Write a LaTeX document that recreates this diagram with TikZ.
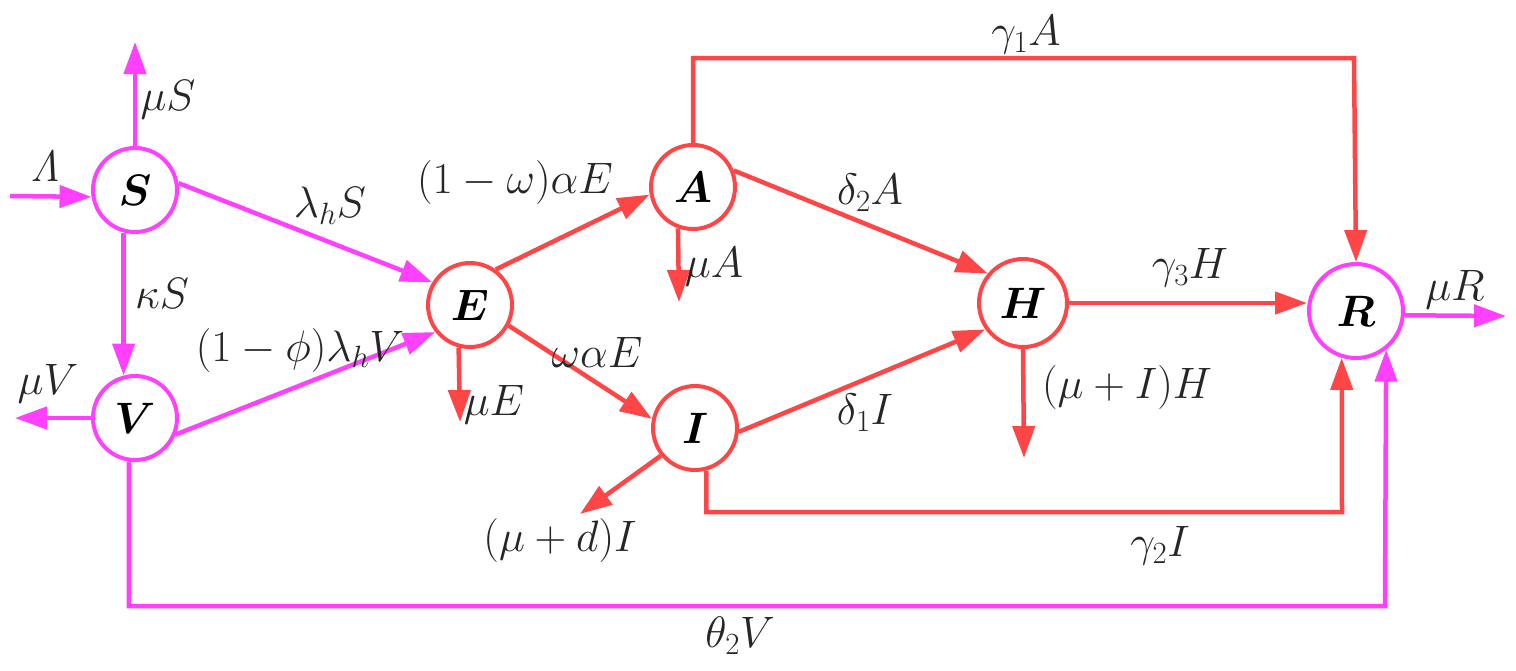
\RequirePackage{fix-cm}
\documentclass[tikz,border=0pt]{standalone}
\usepackage{amsmath,bm}
\usetikzlibrary{arrows.meta}
\definecolor{mag}{RGB}{255,64,255}
\definecolor{rd}{RGB}{255,70,70}
\tikzset{
  every node/.style={font=\fontsize{44}{52}\selectfont},
  comp/.style={circle,draw,line width=4pt,minimum size=84pt,inner sep=0pt,fill=white},
  mcomp/.style={comp,draw=mag},
  rcomp/.style={comp,draw=rd},
  flow/.style={line width=4.5pt,-{Triangle[length=32pt,width=22pt]}},
  mflow/.style={flow,draw=mag},
  rflow/.style={flow,draw=rd},
  lbl/.style={inner sep=0pt,text=black!85}
}
\begin{document}
\begin{tikzpicture}[x=1pt,y=-1pt]
\useasboundingbox (0,0) rectangle (1516,670);
% compartments
\node[mcomp] (S) at (135,190) {$\bm{S}$};
\node[mcomp] (V) at (135,418) {$\bm{V}$};
\node[rcomp] (E) at (470,305) {$\bm{E}$};
\node[rcomp] (A) at (693,187) {$\bm{A}$};
\node[rcomp] (I) at (695,428) {$\bm{I}$};
\node[rcomp,minimum size=88pt] (H) at (1023,303) {$\bm{H}$};
\node[mcomp,minimum size=94pt] (R) at (1356,311) {$\bm{R}$};
% free ends
\coordinate (lam) at (10,196);
\coordinate (muS) at (135,42);
\coordinate (muV) at (15,418);
\coordinate (muE) at (460,422);
\coordinate (muA) at (679,302);
\coordinate (muH) at (1024,458);
\coordinate (muI) at (580,514);
\coordinate (muR) at (1506,316);
\coordinate (tr) at (1354,58);
\coordinate (br) at (1342,512);
\coordinate (bb) at (1385,606);
% magenta flows
\draw[mflow] (lam) -- (S.189);
\draw[mflow] (S.north) -- (muS);
\draw[mflow] (S.255) -- (V.105);
\draw[mflow] (V.west) -- (muV);
\draw[mflow] (S.9) -- (E.149);
\draw[mflow] (V.-22) -- (E.218);
\draw[mflow] (V.262) |- (bb) -- (R.-52);
\draw[mflow] (R.-5) -- (muR);
% red flows
\draw[rflow] (E.54) -- (A.190);
\draw[rflow] (E.-28) -- (I.168);
\draw[rflow] (E.255) -- (muE);
\draw[rflow] (A.250) -- (muA);
\draw[rflow] (A.22) -- (H.140);
\draw[rflow] (I.-5) -- (H.215);
\draw[rflow] (I.219) -- (muI);
\draw[rflow] (H.south) -- (muH);
\draw[rflow] (H.east) -- (R.west |- H.east);
\draw[rflow] (A.north) |- (tr) -- (R.north);
\draw[rflow] (I.-75) |- (br) -- (R.253);
% labels
\node[lbl] (tLam) at (45,166) {$\mathit{\Lambda}$};
\node[lbl] (tmuS) at (168,100) {$\mu S$};
\node[lbl] (tkS) at (162,293) {$\kappa S$};
\node[lbl] (tmuV) at (48,384) {$\mu V$};
\node[lbl] (tlhS) at (330,206) {$\lambda_h S$};
\node[lbl] (tphi) at (300,350) {$(1-\phi)\lambda_h V$};
\node[lbl] (tom1) at (515,182) {$(1-\omega)\alpha E$};
\node[lbl] (tom) at (597,352) {$\omega\alpha E$};
\node[lbl] (tmuE) at (494,405) {$\mu E$};
\node[lbl] (tmuA) at (714,267) {$\mu A$};
\node[lbl] (td2) at (870,193) {$\delta_2 A$};
\node[lbl] (td1) at (865,413) {$\delta_1 I$};
\node[lbl] (tmud) at (560,540) {$(\mu+d)I$};
\node[lbl] (tg1) at (1026,35) {$\gamma_1 A$};
\node[lbl] (tg3) at (1190,268) {$\gamma_3 H$};
\node[lbl] (tmuH) at (1127,387) {$(\mu+I)H$};
\node[lbl] (tg2) at (1160,546) {$\gamma_2 I$};
\node[lbl] (tth) at (740,636) {$\theta_2 V$};
\node[lbl] (tmuR) at (1455,290) {$\mu R$};
\end{tikzpicture}
\end{document}
